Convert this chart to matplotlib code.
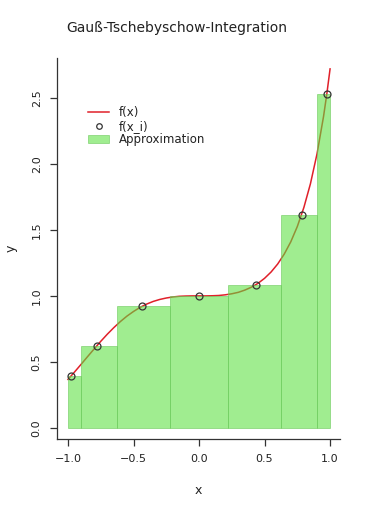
import matplotlib
matplotlib.use("Agg")
import matplotlib.pyplot as plt

# Stützstellen (Tschebyschow-Knoten) und Funktionswerte
x_nodes = [-0.975, -0.782, -0.434, 0.0, 0.434, 0.782, 0.975]
f_nodes = [0.396, 0.620, 0.922, 1.000, 1.085, 1.613, 2.527]

# Balkengrenzen
edges = [-1.0, -0.901, -0.623, -0.223, 0.223, 0.623, 0.901, 1.0]

# Kurve f(x)
x_curve = [-1.00, -0.95, -0.90, -0.85, -0.80, -0.75, -0.70, -0.65, -0.60, -0.55,
           -0.50, -0.45, -0.40, -0.35, -0.30, -0.25, -0.20, -0.15, -0.10, -0.05,
           0.00, 0.05, 0.10, 0.15, 0.20, 0.25, 0.30, 0.35, 0.40, 0.45,
           0.50, 0.55, 0.60, 0.65, 0.70, 0.75, 0.80, 0.85, 0.90, 0.95, 0.975, 1.00]
y_curve = [0.368, 0.424, 0.482, 0.541, 0.599, 0.656, 0.710, 0.760, 0.806, 0.847,
           0.882, 0.913, 0.938, 0.958, 0.973, 0.984, 0.992, 0.997, 0.999, 1.000,
           1.000, 1.000, 1.001, 1.003, 1.008, 1.016, 1.027, 1.044, 1.066, 1.095,
           1.133, 1.181, 1.241, 1.316, 1.409, 1.525, 1.669, 1.848, 2.073, 2.357, 2.527, 2.718]

widths = [edges[i + 1] - edges[i] for i in range(len(edges) - 1)]

fig = plt.figure(figsize=(3.7, 5.12), dpi=100)
ax = fig.add_axes([0.154, 0.1426, 0.765, 0.744])

ln, = ax.plot(x_curve, y_curve, color='#e0202a', linewidth=1.1, label='f(x)', zorder=1)
bars = ax.bar(edges[:-1], f_nodes, width=widths, align='edge', color='#5ce040',
              alpha=0.58, edgecolor='#6cc85c', linewidth=0.7, label='Approximation', zorder=2)
pts, = ax.plot(x_nodes, f_nodes, linestyle='none', marker='o', markersize=5,
               markerfacecolor='none', markeredgecolor='#333333', markeredgewidth=0.9,
               label='f(x_i)', zorder=3)

ax.set_xlim(-1.084, 1.076)
ax.set_ylim(-0.083, 2.80)
ax.set_xticks([-1.0, -0.5, 0.0, 0.5, 1.0])
ax.set_yticks([0.0, 0.5, 1.0, 1.5, 2.0, 2.5])
ax.set_xticklabels(['−1.0', '−0.5', '0.0', '0.5', '1.0'])
ax.set_yticklabels(['0.0', '0.5', '1.0', '1.5', '2.0', '2.5'], rotation=90, va='center')

for s in ['top', 'right']:
    ax.spines[s].set_visible(False)
for s in ['left', 'bottom']:
    ax.spines[s].set_color('#333333')
    ax.spines[s].set_linewidth(0.9)
ax.tick_params(labelsize=8, length=5, width=0.9, color='#333333', labelcolor='#222222', pad=6)

ax.set_xlabel('x', fontsize=9, labelpad=14, color='#222222')
ax.set_ylabel('y', fontsize=9, labelpad=10, color='#222222')

fig.text(66 / 370, 1 - 28 / 512, 'Gauß-Tschebyschow-Integration', fontsize=10,
         ha='left', va='center', color='#222222')

leg = ax.legend([ln, pts, bars], ['f(x)', 'f(x_i)', 'Approximation'], loc='upper left',
                bbox_to_anchor=(0.094, 0.886), frameon=False, fontsize=8.5,
                handlelength=1.75, labelspacing=0.05, borderaxespad=0.0, handletextpad=0.85,
                markerscale=0.8)
for t in leg.get_texts():
    t.set_color('#222222')

fig.savefig('out.png', dpi=100)
